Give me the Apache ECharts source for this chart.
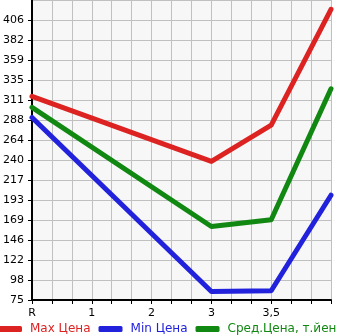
<!DOCTYPE html>
<html><head><meta charset="utf-8">
<script src="https://cdn.jsdelivr.net/npm/echarts@6/dist/echarts.min.js"></script>
<style>html,body{margin:0;padding:0;background:#fff}#c{width:345px;height:335px}</style>
</head><body><div id="c"></div>
<script>
var categories = ["R", "1", "2", "3", "3,5", ""];
var maxVals = [316, null, null, 239, 282, 419];
var minVals = [291, null, null, 85, 86, 199];
var avgVals = [303, null, null, 162, 170, 325];
var yMin = 75, yStep = 71 / 3, yMax = 430;

function pts(arr){ var r=[]; arr.forEach(function(v,i){ if(v!==null) r.push([i,v]); }); return r; }
function ser(name, arr, color){
  return {name:name, type:'line', data:pts(arr), showSymbol:false, symbol:'none',
    lineStyle:{width:5, color:color, cap:'round', join:'round'}, itemStyle:{color:color}, z:3};
}
var chart = echarts.init(document.getElementById('c'), null, {renderer:'canvas'});
chart.setOption({
  animation:false,
  textStyle:{fontFamily:'DejaVu Sans'},
  grid:{left:31, right:14, top:0, bottom:35, show:true, backgroundColor:'#f7f7f7', borderWidth:0, containLabel:false},
  xAxis:{type:'value', min:0, max:categories.length-1, interval:1,
    axisLine:{lineStyle:{color:'#000', width:2}},
    axisTick:{show:true, length:4, lineStyle:{color:'#000'}},
    minorTick:{show:true, splitNumber:3, length:4, lineStyle:{color:'#000'}},
    splitLine:{show:true, lineStyle:{color:'#c0c0c0', width:1}},
    minorSplitLine:{show:true, lineStyle:{color:'#c0c0c0', width:1}},
    axisLabel:{color:'#000', fontSize:11, margin:8, formatter:function(v){return categories[Math.round(v)]||'';}}
  },
  yAxis:{type:'value', min:yMin, max:yMax, interval:yStep,
    axisLine:{show:true, lineStyle:{color:'#000', width:2}},
    axisTick:{show:true, length:4, lineStyle:{color:'#000'}},
    splitLine:{show:true, lineStyle:{color:'#c0c0c0', width:1}},
    axisLabel:{color:'#000', fontSize:11, margin:8, showMaxLabel:false, formatter:function(v){return Math.floor(v + 1e-6);}}
  },
  legend:{bottom:0, left:-2, padding:0, width:360, itemWidth:24, itemHeight:6, itemGap:8, icon:'roundRect',
    textStyle:{fontSize:12, fontFamily:'DejaVu Sans', padding:[0,0,0,3]},
    data:[{name:'Max Цена', textStyle:{color:'#dd2222'}},{name:'Min Цена', textStyle:{color:'#2222dd'}},{name:'Сред.Цена, т.йен', textStyle:{color:'#118811'}}]
  },
  series:[ser('Max Цена', maxVals, '#dd2222'), ser('Min Цена', minVals, '#2222dd'), ser('Сред.Цена, т.йен', avgVals, '#118811')]
});
</script></body></html>
